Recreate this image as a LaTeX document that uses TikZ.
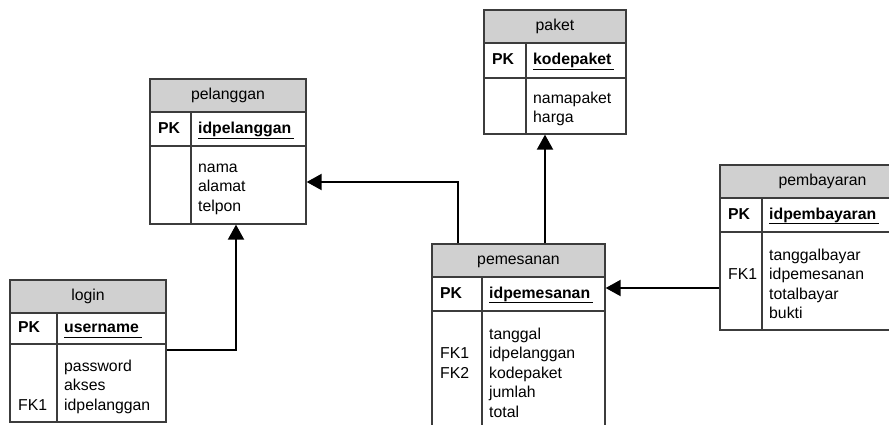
\documentclass[tikz,border=0pt]{standalone}
\usepackage{fontspec}
\setmainfont{Liberation Sans}
\usetikzlibrary{arrows.meta}
\definecolor{hdrgray}{RGB}{208,208,208}
\definecolor{bordergray}{RGB}{60,60,60}
\tikzset{
  tbox/.style={draw=bordergray, line width=1.3pt, inner sep=0pt},
  tline/.style={draw=bordergray, line width=1.3pt},
  txt/.style={font=\fontsize{15.8}{19.5}\selectfont, inner sep=0pt, text height=11.3pt, text depth=3.3pt},
  ttl/.style={txt, anchor=center},
  fld/.style={txt, anchor=west},
  conn/.style={draw=black, line width=2pt, -{Triangle[length=15pt,width=16pt]}},
}
\newcommand{\ertable}[9]{%
  \fill[hdrgray] (#3,#4) rectangle (#5,#6);
  \node[tbox, minimum width={(#5-#3)*1pt}, minimum height={(#8-#4)*1pt}] (#1) at ({(#3+#5)/2},{(#4+#8)/2}) {};
  \draw[tline] (#3,#6) -- (#5,#6) (#3,#7) -- (#5,#7) (#9,#6) -- (#9,#8);
  \node[ttl] (#1-t) at ({(#3+#5)/2},{(#4+#6)/2}) {#2};
  \node[fld] (#1-pk) at ({#3+8},{(#6+#7)/2}) {\textbf{PK}};
}
\newcommand{\keytext}[1]{\underline{\vphantom{g}\textbf{#1}\hspace{3pt}}}
\begin{document}
\begin{tikzpicture}[x=1pt,y=-1pt]
\useasboundingbox (0,0) rectangle (889,424);
\clip (0,0) rectangle (889,424);
\fill[white] (0,0) rectangle (889,424);

% pelanggan
\ertable{pel}{pelanggan}{150}{79}{306}{112}{146}{224}{191}
\node[fld] (pel-k) at (198,129) {\keytext{idpelanggan}};
\foreach \t [count=\i] in {nama,alamat,telpon}
  \node[fld] (pel-f\i) at (198,{168+19.5*(\i-1)}) {\t};

% paket
\ertable{pak}{paket}{484}{10}{626}{43}{78}{134}{526}
\node[fld] (pak-k) at (533,60.5) {\keytext{kodepaket}};
\foreach \t [count=\i] in {namapaket,harga}
  \node[fld] (pak-f\i) at (533,{99+19.5*(\i-1)}) {\t};

% login
\ertable{log}{login}{10}{280}{166}{313}{344}{422}{57}
\node[fld] (log-k) at (64,328.5) {\keytext{username}};
\foreach \t [count=\i] in {password,akses,idpelanggan}
  \node[fld] (log-f\i) at (64,{367+19.5*(\i-1)}) {\t};
\node[fld] (log-fk1) at (18,406) {FK1};

% pemesanan
\ertable{pem}{pemesanan}{432}{244}{605}{277}{311}{445}{482}
\node[fld] (pem-k) at (489,294) {\keytext{idpemesanan}};
\foreach \t [count=\i] in {tanggal,idpelanggan,kodepaket,jumlah,total}
  \node[fld] (pem-f\i) at (489,{335+19.5*(\i-1)}) {\t};
\node[fld] (pem-fk1) at (440,354.5) {FK1};
\node[fld] (pem-fk2) at (440,374) {FK2};

% pembayaran
\ertable{pby}{pembayaran}{720}{165}{925}{198}{232}{330}{762}
\node[fld] (pby-k) at (769,215) {\keytext{idpembayaran}};
\foreach \t [count=\i] in {tanggalbayar,idpemesanan,totalbayar,bukti}
  \node[fld] (pby-f\i) at (769,{256+19.5*(\i-1)}) {\t};
\node[fld] (pby-fk1) at (728,275.5) {FK1};

% connectors
\coordinate (c1) at (458,182);
\draw[conn] (pem.north -| c1) -- (c1) -- (pel.east |- c1);
\coordinate (c2) at (236,350);
\draw[conn] (log.east |- c2) -- (c2) -- (c2 |- pel.south);
\coordinate (c3) at (545,0);
\draw[conn] (pem.north -| c3) -- (c3 |- pak.south);
\coordinate (c4) at (0,288);
\draw[conn] (pby.west |- c4) -- (pem.east |- c4);
\end{tikzpicture}
\end{document}
